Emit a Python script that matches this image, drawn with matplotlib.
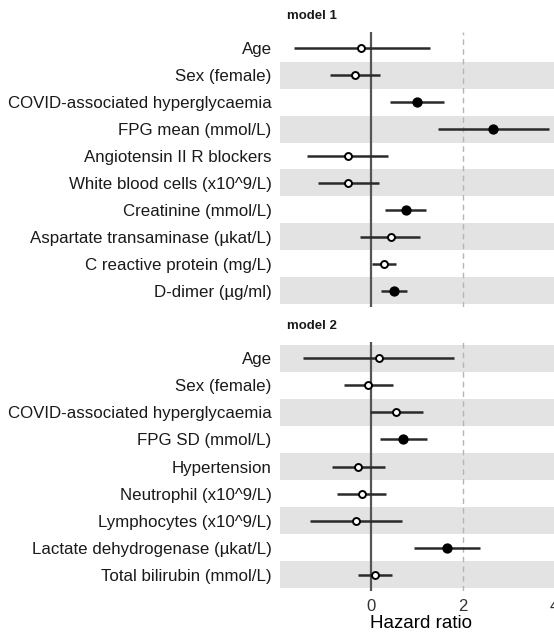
import matplotlib.pyplot as plt
import numpy as np

plt.rcParams['font.family'] = ['Liberation Sans', 'DejaVu Sans']

# model 1
labels_m1 = ['Age', 'Sex (female)', 'COVID-associated hyperglycaemia', 'FPG mean (mmol/L)',
             'Angiotensin II R blockers', 'White blood cells (x10^9/L)', 'Creatinine (mmol/L)',
             'Aspartate transaminase (\u00b5kat/L)', 'C reactive protein (mg/L)', 'D-dimer (\u00b5g/ml)']
est_m1 = [-0.22, -0.36, 0.99, 2.67, -0.52, -0.51, 0.75, 0.42, 0.28, 0.50]
lo_m1 = [-1.70, -0.91, 0.40, 1.46, -1.40, -1.17, 0.30, -0.24, 0.01, 0.22]
hi_m1 = [1.28, 0.19, 1.59, 3.90, 0.36, 0.17, 1.20, 1.07, 0.54, 0.78]
sig_m1 = [False, False, True, True, False, False, True, False, False, True]

# model 2
labels_m2 = ['Age', 'Sex (female)', 'COVID-associated hyperglycaemia', 'FPG SD (mmol/L)',
             'Hypertension', 'Neutrophil (x10^9/L)', 'Lymphocytes (x10^9/L)',
             'Lactate dehydrogenase (\u00b5kat/L)', 'Total bilirubin (mmol/L)']
est_m2 = [0.16, -0.07, 0.54, 0.70, -0.29, -0.21, -0.33, 1.65, 0.08]
lo_m2 = [-1.49, -0.59, -0.03, 0.19, -0.87, -0.75, -1.34, 0.93, -0.30]
hi_m2 = [1.80, 0.48, 1.13, 1.21, 0.30, 0.33, 0.67, 2.38, 0.45]
sig_m2 = [False, False, False, True, False, False, False, True, False]

W, H = 554, 635
fig = plt.figure(figsize=(W / 100, H / 100), dpi=100)


def draw_panel(top_px, bottom_px, labels, est, lo, hi, sig, title, show_x):
    n = len(labels)
    ax = fig.add_axes([280 / W, 1 - bottom_px / H, 1 - 280 / W, (bottom_px - top_px) / H])
    y = np.arange(n)[::-1]
    pad = 0.1
    for yy in y:
        if yy % 2 == 0:
            ax.axhspan(yy - 0.5, yy + 0.5, color='#e3e3e3', lw=0, zorder=0)
    ax.axvline(0, color='#555555', lw=1.6, zorder=1)
    ax.axvline(2, color='#b5b5b5', lw=1.0, ls=(0, (4, 3)), zorder=1)
    ax.hlines(y, lo, hi, color='#2a2a2a', lw=1.8, zorder=2)
    for yy, e, s in zip(y, est, sig):
        ax.plot(e, yy, 'o', ms=6 if s else 5,
                mfc='black' if s else 'white', mec='black', mew=1.4, zorder=3)
    ax.set_xlim(-2.0, 4.0)
    ax.set_ylim(-0.5 - pad, n - 0.5 + pad)
    ax.set_yticks(y)
    ax.set_yticklabels(labels, fontsize=12.2, color='#1a1a1a')
    ax.tick_params(axis='both', length=0, pad=6)
    for s in ax.spines.values():
        s.set_visible(False)
    ax.set_xticks([0, 2, 4])
    if show_x:
        ax.set_xticklabels(['0', '2', '4'], fontsize=12, color='#333333')
        ax.tick_params(axis='x', pad=6)
        ax.set_xlabel('Hazard ratio', fontsize=13.5)
        ax.xaxis.set_label_coords((421 - 280) / (W - 280), -(615 - bottom_px) / (bottom_px - top_px))
    else:
        ax.set_xticklabels([])
    fig.text(287 / W, 1 - (top_px - 16) / H, title, fontsize=9.5, fontweight='bold',
             ha='left', va='center', color='#1a1a1a')
    return ax


draw_panel(32, 307, labels_m1, est_m1, lo_m1, hi_m1, sig_m1, 'model 1', False)
draw_panel(342, 591, labels_m2, est_m2, lo_m2, hi_m2, sig_m2, 'model 2', True)

fig.savefig('out.png', dpi=100)
